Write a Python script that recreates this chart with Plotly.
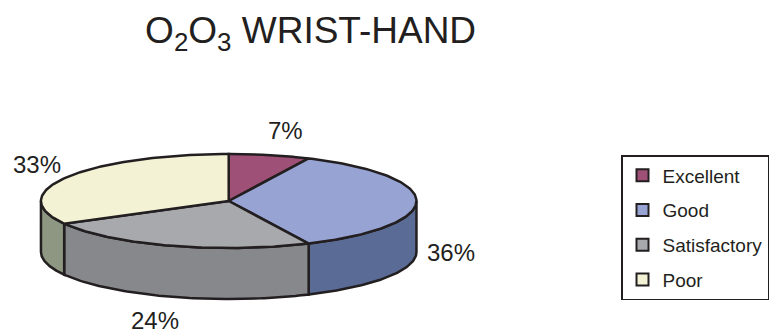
import numpy as np
import plotly.graph_objects as go

# ---- data ----
categories = ["Excellent", "Good", "Satisfactory", "Poor"]
percent = [7, 36, 24, 33]
label_text = ["7%", "36%", "24%", "33%"]

# ---- styling ----
top_colors = ["#9e5077", "#97a3d3", "#a8a9ac", "#f3f2d5"]
side_colors = ["#6f3653", "#5a6c96", "#87888c", "#8e9782"]
edge = "#231f20"
font_family = "Liberation Sans, Arial, sans-serif"

W, H = 769, 334
# pie geometry (pixel space of the figure)
cx, cy = 229.0, 201.0
rx, ry = 188.0, 47.0
depth = 51.0


def ell(theta, dy=0.0):
    """Point on the projected rim; theta clockwise from 12 o'clock, radians."""
    return cx + rx * np.sin(theta), cy - ry * np.cos(theta) + dy


fig = go.Figure()

total = float(sum(percent))
bounds = np.concatenate([[0.0], np.cumsum(percent) / total]) * 2 * np.pi

# side walls: only the front half (90°..270°) is visible
for i, name in enumerate(categories):
    a = max(bounds[i], np.pi / 2)
    b = min(bounds[i + 1], 3 * np.pi / 2)
    if b <= a:
        continue
    t = np.linspace(a, b, 80)
    xt, yt = ell(t)
    xb, yb = ell(t[::-1], depth)
    xs = np.concatenate([xt, xb, xt[:1]])
    ys = np.concatenate([yt, yb, yt[:1]])
    fig.add_trace(go.Scatter(
        x=xs, y=ys, mode="lines", fill="toself",
        fillcolor=side_colors[i], line=dict(color=edge, width=2.5),
        hoverinfo="skip", showlegend=False,
    ))

# top faces
for i, name in enumerate(categories):
    t = np.linspace(bounds[i], bounds[i + 1], 120)
    xa, ya = ell(t)
    xs = np.concatenate([[cx], xa, [cx]])
    ys = np.concatenate([[cy], ya, [cy]])
    fig.add_trace(go.Scatter(
        x=xs, y=ys, mode="lines", fill="toself",
        fillcolor=top_colors[i], line=dict(color=edge, width=2.5),
        name=name, hoverinfo="name", showlegend=False,
    ))

# legend entries
for i, name in enumerate(categories):
    fig.add_trace(go.Scatter(
        x=[None], y=[None], mode="markers", name=name,
        legendgroup=name,
        marker=dict(symbol="square", size=12, color=top_colors[i],
                    line=dict(color=edge, width=1.5)),
    ))

# percentage labels placed outside the rim at each slice's mid angle
for i, txt in enumerate(label_text):
    mid = (bounds[i] + bounds[i + 1]) / 2
    s = np.sin(mid)
    lx = cx + (rx + 35) * s + (8 if abs(s) < 0.4 and np.cos(mid) > 0 else 0) \
        - (5 if abs(s) < 0.4 and np.cos(mid) < 0 else 0)
    ly = cy - (ry + 25) * np.cos(mid) + (depth if np.cos(mid) <= 1e-9 else 0)
    fig.add_annotation(
        x=lx, y=ly, text=txt, showarrow=False,
        xanchor="center", yanchor="middle",
        font=dict(family=font_family, size=24, color=edge),
    )

fig.update_layout(
    width=W, height=H,
    margin=dict(l=0, r=0, t=0, b=0),
    paper_bgcolor="white", plot_bgcolor="white",
    xaxis=dict(range=[0, W], visible=False, fixedrange=True),
    yaxis=dict(range=[H, 0], visible=False, fixedrange=True),
    title=dict(
        text="O<sub>2</sub>O<sub>3</sub> WRIST-HAND",
        x=311 / W, xanchor="center", xref="paper",
        y=1 - 30 / H, yanchor="middle", yref="container",
        font=dict(family=font_family, size=37, color=edge),
    ),
    legend=dict(
        x=622 / W, y=1 - 155 / H, xanchor="left", yanchor="top",
        bordercolor=edge, borderwidth=1.5, bgcolor="white",
        font=dict(family=font_family, size=19, color=edge),
        tracegroupgap=7, itemsizing="constant",
    ),
    showlegend=True,
)

fig.write_html("out.html")
